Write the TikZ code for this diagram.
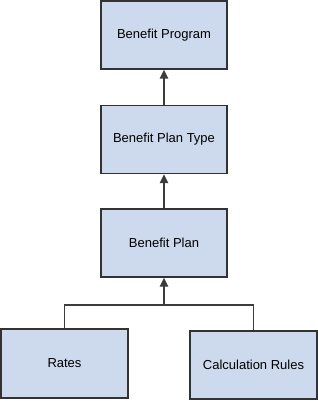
\documentclass[tikz,border=0pt]{standalone}
\usepackage{fontspec}
\setmainfont{Liberation Sans}
\usetikzlibrary{arrows.meta}
\definecolor{boxfill}{RGB}{205,217,236}
\definecolor{boxline}{RGB}{50,50,50}
\definecolor{linkcol}{RGB}{60,60,60}
\begin{document}
\begin{tikzpicture}[x=1pt,y=1pt,
  entity/.style={draw=boxline,fill=boxfill,line width=1.4pt,minimum width=126pt,minimum height=68pt,inner sep=0pt,font=\fontsize{13}{15}\selectfont},
  link/.style={draw=linkcol,line width=1.4pt},
  arr/.style={link,-{Triangle[length=9pt,width=8.5pt]}}]
\useasboundingbox (0,0) rectangle (318,-401);
\node[entity] (prog) at (164,-35) {Benefit Program};
\node[entity] (type) at (164,-139.5) {Benefit Plan Type};
\node[entity] (plan) at (164,-243) {Benefit Plan};
\node[entity,minimum width=127pt,minimum height=69pt] (rates) at (64.5,-363.5) {Rates};
\node[entity,minimum width=127pt,minimum height=68pt] (calc) at (253.5,-365) {Calculation Rules};
\coordinate (j) at (164,-305);
\draw[arr] (type.north) -- (prog.south);
\draw[arr] (plan.north) -- (type.south);
\draw[arr] (j) -- (plan.south);
\draw[link] (rates.north) |- (j) -| (calc.north);
\end{tikzpicture}
\end{document}
